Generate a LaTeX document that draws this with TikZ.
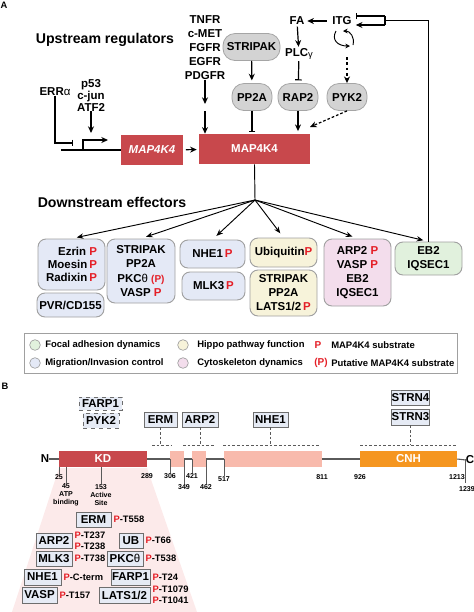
\documentclass[tikz,border=0pt]{standalone}
\usepackage{fontspec}
\setmainfont{Liberation Sans}
\usetikzlibrary{arrows.meta}

\definecolor{mapred}{RGB}{200,72,76}
\definecolor{dompink}{RGB}{248,186,172}
\definecolor{cnhorange}{RGB}{245,150,32}
\definecolor{fanpink}{RGB}{252,234,234}
\definecolor{reggray}{RGB}{211,211,211}
\definecolor{reggrayd}{RGB}{165,165,165}
\definecolor{effgray}{RGB}{160,160,160}
\definecolor{migblue}{RGB}{228,233,246}
\definecolor{hippoyel}{RGB}{247,243,218}
\definecolor{cytopink}{RGB}{243,221,236}
\definecolor{focgreen}{RGB}{225,241,221}
\definecolor{boxblue}{RGB}{230,235,245}
\definecolor{boxgray}{RGB}{110,110,110}
\definecolor{bkgray}{RGB}{90,90,90}
\definecolor{ppred}{RGB}{228,30,38}

\newcommand{\redP}{\textcolor{ppred}{P}}
\newcommand{\grk}[1]{{\mdseries #1}}

\begin{document}
\begin{tikzpicture}[x=0.75pt,y=0.75pt,yscale=-1,xscale=1,
  every node/.style={font=\bfseries\fontsize{8.6}{10.5}\selectfont,inner sep=0pt},
  hdr/.style={font=\bfseries\fontsize{10.6}{12}\selectfont},
  gene/.style={fill=mapred,text=white,minimum height=22.5pt},
  reg/.style={draw=reggrayd,fill=reggray,rounded corners=9pt,minimum width=30pt,minimum height=20.25pt,line width=0.6pt},
  eff/.style={draw=effgray,rounded corners=6pt,align=center,line width=0.7pt},
  act/.style={-{Stealth[length=5pt,width=4.5pt]},line width=0.9pt},
  inh/.style={-{Bar[width=5pt]},line width=0.9pt},
  fan/.style={-{Stealth[length=5pt,width=4pt]},line width=0.7pt,shorten >=4pt},
  lgtext/.style={font=\bfseries\fontsize{7.1}{8}\selectfont,anchor=west},
  lgdot/.style={circle,draw=effgray,minimum size=8pt,line width=0.5pt},
  num/.style={font=\bfseries\fontsize{5.3}{6.2}\selectfont,align=center},
  dom/.style={text=white,minimum height=12pt},
  bk/.style={draw=bkgray,line width=0.8pt},
  tk/.style={draw=bkgray,line width=0.6pt},
  intr/.style={draw=bkgray,dash pattern=on 2pt off 1.5pt,line width=0.6pt},
  pbox/.style={draw=boxgray,fill=boxblue,minimum height=11.25pt,line width=0.6pt},
  site/.style={font=\bfseries\fontsize{7}{8}\selectfont,anchor=west,align=left,inner xsep=1.5pt}
]
\useasboundingbox (0,0) rectangle (474,612);

%%%%%%%%%% Panel A %%%%%%%%%%
% Text Node
\node[font=\bfseries\fontsize{7}{8}\selectfont] (lblA) at (4,5) {A};
\node[hdr] (hUp) at (105,40) {Upstream regulators};
\node[hdr] (hDown) at (112,202) {Downstream effectors};

% Regulators
\node[align=center] (tnfr) at (205,48) {TNFR\\c-MET\\FGFR\\EGFR\\PDGFR};
\node (erra) at (55,92) {ERR\grk{α}};
\node[align=center,font=\bfseries\fontsize{8.6}{9}\selectfont] (p53) at (91,95) {p53\\c-jun\\ATF2};
\node[reg,minimum width=42.75pt] (stripak) at (251.5,47) {STRIPAK};
\node[reg] (pp2a) at (252,97) {PP2A};
\node[reg] (rap2) at (298,97) {RAP2};
\node[reg] (pyk2) at (347,97) {PYK2};
\node (fa) at (297,21) {FA};
\node[inner xsep=3pt] (itg) at (342,21) {ITG};
\node (plc) at (299,54) {PLC\grk{\raisebox{-1pt}{\fontsize{7}{8}\selectfont γ}}};

% Gene and protein
\node[gene,minimum width=46.5pt,font=\bfseries\itshape\fontsize{8.6}{10.5}\selectfont] (gene) at (152,150) {MAP4K4};
\node[gene,minimum width=83.25pt] (prot) at (254.5,149) {MAP4K4};

\coordinate (geneL) at (61,150);
\coordinate (tss) at (83,150);
\coordinate (tssEnd) at (108,140);
\coordinate (errBar) at (73,143);
\coordinate (p53End) at (91,133);
\coordinate (rcpA) at (205,104);
\coordinate (rcpB) at (205,111);
\coordinate (pykEnd) at (310,127);
\coordinate (cyc) at (347,57);
\coordinate (fbk) at (385,20.5);
\coordinate (fbkT) at (385,16);
\coordinate (fbkB) at (385,25);
\coordinate (fork) at (255,200);

% Promoter and gene line
\draw[line width=0.9pt] (geneL) -- (gene.west);
\draw[act] (tss) |- (tssEnd);
\draw[inh] (erra.south) |- (errBar);
\draw[act] (p53.south) -- (p53End);

% Upstream connectors
\draw[act] (tnfr.south) -- (rcpA);
\draw[act] (rcpB) -- (rcpB |- prot.north);
\draw[act,shorten <=2pt,shorten >=1.5pt] (gene) -- (prot);
\draw[act,shorten >=2pt] (stripak) -- (pp2a);
\draw[inh,shorten >=1.5pt] (pp2a) -- (pp2a.south |- prot.north);
\draw[act,shorten >=2pt] (rap2) -- (rap2.south |- prot.north);
\draw[act,dash pattern=on 2pt off 1.5pt] (pyk2.south) -- (pykEnd);
\draw[act,shorten <=1pt,shorten >=2pt] (itg) -- (fa);
\draw[act,shorten <=1pt,shorten >=1pt] (fa) -- (plc);
\draw[inh,shorten <=1pt,shorten >=2pt] (plc) -- (rap2);
\draw[act,dash pattern=on 2pt off 2pt] (cyc) -- (pyk2.north);

% ITG cycle
\draw[-{Stealth[length=3.5pt,width=3.5pt]},line width=0.7pt] (336,31) .. controls (331,40) and (338,46) .. (350,46);
\draw[-{Stealth[length=3.5pt,width=3.5pt]},line width=0.7pt] (353,45) .. controls (355,37) and (350,31) .. (343,31);

% Feedback from EB2/IQSEC1
\draw[line width=0.9pt] (fbkT) -- (fbkB);
\draw[inh] (fbkT) -- (fbkT -| itg.east);
\draw[act] (fbkB) -- (fbkB -| itg.east);

% Effectors
\node[eff,fill=migblue,minimum width=50.25pt,minimum height=38.25pt,align=right,font=\bfseries\fontsize{8.6}{9.75}\selectfont] (erm) at (71.5,264.5) {Ezrin \redP\\Moesin\,\redP\\Radixin\,\redP};
\node[eff,fill=migblue,minimum width=50.25pt,minimum height=18pt] (pvr) at (70.5,305) {PVR/CD155};
\node[eff,fill=migblue,minimum width=51pt,minimum height=48pt,font=\bfseries\fontsize{8.6}{10.7}\selectfont] (strip) at (141,271) {STRIPAK\\PP2A\\PKC\grk{θ} {\fontsize{7.5}{9}\selectfont\textcolor{ppred}{(P)}}\\VASP \redP};
\node[eff,fill=migblue,minimum width=48.75pt,minimum height=21pt] (nhe) at (212.5,254) {NHE1\,\redP};
\node[eff,fill=migblue,minimum width=47.25pt,minimum height=21pt] (mlk) at (213.5,286) {MLK3\,\redP};
\node[eff,fill=hippoyel,minimum width=50.25pt,minimum height=21.75pt] (ubq) at (283.5,252.5) {Ubiquitin\redP};
\node[eff,fill=hippoyel,minimum width=50.25pt,minimum height=34.5pt] (hippo) at (283.5,293) {STRIPAK\\PP2A\\LATS1/2\,\redP};
\node[eff,fill=cytopink,minimum width=50.25pt,minimum height=50.25pt] (arp) at (357.5,272.5) {ARP2 \redP\\VASP \redP\\EB2\\IQSEC1};
\node[eff,fill=focgreen,minimum width=50.25pt,minimum height=24.75pt] (ebq) at (428.5,258.5) {EB2\\IQSEC1};

\draw[line width=0.9pt] (ebq.north) -- (ebq.north |- fbk) -- (fbk);

% Fan out
\draw[line width=0.7pt] (prot.south) -- (fork);
\foreach \t in {erm,strip,nhe,ubq,arp,ebq}
  \draw[fan] (fork) -- (\t.north);

% Legend
\draw[draw=effgray,line width=0.6pt] (24,333) rectangle (457,373);
\node[lgdot,fill=focgreen] (dFoc) at (35,345) {};
\node[lgdot,fill=migblue] (dMig) at (35,363) {};
\node[lgdot,fill=hippoyel] (dHip) at (183,345) {};
\node[lgdot,fill=cytopink] (dCyt) at (183,363) {};
\node[lgtext] (tFoc) at (45,345) {Focal adhesion dynamics};
\node[lgtext] (tMig) at (45,363) {Migration/Invasion control};
\node[lgtext] (tHip) at (197,345) {Hippo pathway function};
\node[lgtext] (tCyt) at (197,363) {Cytoskeleton dynamics};
\node[font=\bfseries\fontsize{7.5}{8}\selectfont,text=ppred] (kP) at (318,345) {P};
\node[font=\bfseries\fontsize{7.5}{8}\selectfont,text=ppred] (kPP) at (321,363) {(P)};
\node[lgtext] (tSub) at (331,345) {MAP4K4 substrate};
\node[lgtext] (tPut) at (331,363) {Putative MAP4K4 substrate};

%%%%%%%%%% Panel B %%%%%%%%%%
\node[font=\bfseries\fontsize{7}{8}\selectfont] (lblB) at (5,386) {B};

% Fan below KD
\fill[fanpink] (59,468) -- (147,468) -- (197,612) -- (12,612) -- cycle;

% Domains
\node[dom,fill=mapred,minimum width=66pt] (kd) at (103,459) {KD};
\node[dom,fill=dompink,minimum width=10.5pt] (erd) at (177,459) {};
\node[dom,fill=dompink,minimum width=10.5pt] (ard) at (199,459) {};
\node[dom,fill=dompink,minimum width=73.5pt] (nhd) at (273,459) {};
\node[dom,fill=cnhorange,minimum width=72.75pt] (cnh) at (408.5,459) {CNH};
\node (nlab) at (45,459) {N};
\node (clab) at (470,460) {C};

% Backbone
\draw[bk] (nlab.east) -- (kd.west);
\draw[bk] (kd.east) -- (erd.west);
\draw[bk] (erd.east) -- (ard.west);
\draw[bk] (ard.east) -- (nhd.west);
\draw[bk] (nhd.east) -- (cnh.west);
\draw[bk] (cnh.east) -- (clab.west);

% Residue numbers
\node[num] (n25) at (59,477) {25};
\node[num] (n45) at (66,495) {45\\ATP\\binding};
\node[num] (n153) at (101,495) {153\\Active\\Site};
\node[num] (n289) at (147,476) {289};
\node[num] (n306) at (170,476) {306};
\node[num] (n349) at (184,487) {349};
\node[num] (n421) at (192,476) {421};
\node[num] (n462) at (206,487) {462};
\node[num] (n517) at (224,479) {517};
\node[num] (n811) at (322,477) {811};
\node[num] (n926) at (360,477) {926};
\node[num] (n1213) at (457,477) {1213};
\node[num] (n1239) at (467,489) {1239};

\draw[tk] (n25.north |- kd.south) -- (n25.north);
\draw[tk] (n45.north |- kd.south) -- (n45.north);
\draw[tk] (n153.north |- kd.south) -- (n153.north);
\draw[tk] (n306.north |- erd.center) -- (n306.north);
\draw[tk] (n349.north |- erd.center) -- (n349.north);
\draw[tk] (n421.north |- ard.center) -- (n421.north);
\draw[tk] (n462.north |- ard.center) -- (n462.north);
\draw[tk] (n517.north |- nhd.center) -- (n517.north);
\draw[tk] (465,459) -- (465,483);

% Interactors
\node[pbox,dashed,minimum width=32.25pt,minimum height=9.75pt] (farpB) at (100.5,403.5) {FARP1};
\node[pbox,dashed,minimum width=27pt] (pykB) at (101,420.5) {PYK2};
\node[pbox,minimum width=24.75pt] (ermB) at (160.5,419.5) {ERM};
\node[pbox,minimum width=27pt] (arpB) at (200,419.5) {ARP2};
\node[pbox,minimum width=26.25pt] (nheB) at (270.5,419.5) {NHE1};
\node[pbox,minimum width=27.75pt] (strn4) at (410.5,397.5) {STRN4};
\node[pbox,minimum width=27.75pt,minimum height=12pt] (strn3) at (410.5,417) {STRN3};

\coordinate (lvl) at (0,445);
\draw[intr] (ermB.south) -- (ermB.south |- lvl);
\draw[intr] (152,445) -- (172,445);
\draw[intr] (arpB.south) -- (arpB.south |- lvl);
\draw[intr] (183,445) -- (215,445);
\draw[intr] (nheB.south) -- (nheB.south |- lvl);
\draw[intr] (223,445) -- (320,445);
\draw[intr] (strn3.south) -- (strn3.south |- lvl);
\draw[intr] (360,445) -- (457,445);

% Phosphosites
\node[pbox,minimum width=26.25pt] (ermK) at (93.5,519.5) {ERM};
\node[pbox,minimum width=27pt] (arpK) at (54,540.5) {ARP2};
\node[pbox,minimum width=18pt] (ubK) at (131,540.5) {UB};
\node[pbox,minimum width=27pt] (mlkK) at (54,558.5) {MLK3};
\node[pbox,minimum width=27pt] (pkcK) at (125,558.5) {PKC\grk{θ}};
\node[pbox,minimum width=27.75pt,minimum height=12pt] (nheK) at (42.5,577) {NHE1};
\node[pbox,minimum width=29.25pt,minimum height=12pt] (farpK) at (130.5,577) {FARP1};
\node[pbox,minimum width=26.25pt,minimum height=12pt] (vaspK) at (39.5,595) {VASP};
\node[pbox,minimum width=38.25pt,minimum height=12pt] (latsK) at (124.5,595) {LATS1/2};

\node[site] (sErm) at (ermK.east) {\redP-T558};
\node[site] (sArp) at (arpK.east) {\redP-T237\\\redP-T238};
\node[site] (sUb) at (ubK.east) {\redP-T66};
\node[site] (sMlk) at (mlkK.east) {\redP-T738};
\node[site] (sPkc) at (pkcK.east) {\redP-T538};
\node[site] (sNhe) at (nheK.east) {\redP-C-term};
\node[site] (sFarp) at (farpK.east) {\redP-T24};
\node[site] (sVasp) at (vaspK.east) {\redP-T157};
\node[site] (sLats) at (latsK.east) {\redP-T1079\\\redP-T1041};

\end{tikzpicture}
\end{document}
